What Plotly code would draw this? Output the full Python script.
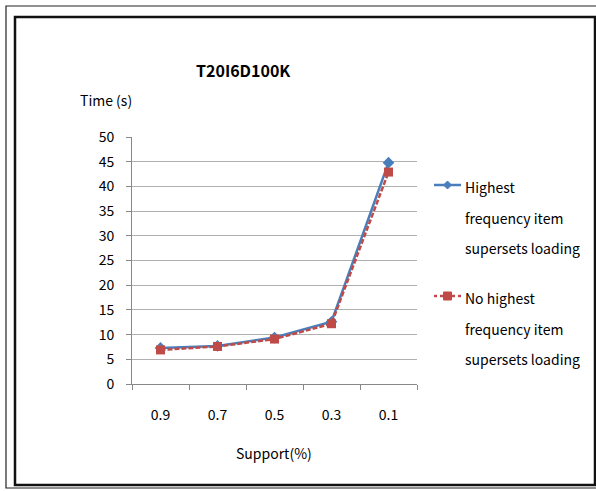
import plotly.graph_objects as go

# Support thresholds (%) and run times (s) on T20I6D100K
support = ["0.9", "0.7", "0.5", "0.3", "0.1"]
time_with_loading = [7.3, 7.7, 9.4, 12.6, 44.8]
time_without_loading = [6.9, 7.6, 9.1, 12.2, 42.9]
y_ticks = [0, 5, 10, 15, 20, 25, 30, 35, 40, 45, 50]

series_names = [
    "Highest<br>frequency item<br>supersets loading",
    "No highest<br>frequency item<br>supersets loading",
]

BLUE = "#4a7ebb"
RED = "#be4b48"
FONT = "Noto Sans CJK KR"
FS = 14

W, H = 596, 491
L, R, T, B = 132, 417, 137, 384  # plot area in pixels


def px(x):
    return (x - L) / (R - L)


def py(y):
    return (B - y) / (B - T)


fig = go.Figure()
fig.add_trace(go.Scatter(
    x=support, y=time_with_loading, mode="lines+markers",
    line=dict(color=BLUE, width=2.5),
    marker=dict(symbol="diamond", size=9, color=BLUE),
    showlegend=False,
))
fig.add_trace(go.Scatter(
    x=support, y=time_without_loading, mode="lines+markers",
    line=dict(color=RED, width=2.5, dash="5px,2px"),
    marker=dict(symbol="square", size=9, color=RED),
    showlegend=False,
))

shapes = []
# double frame around the chart
shapes.append(dict(type="rect", xref="paper", yref="paper",
                   x0=px(6), x1=px(600), y0=py(488), y1=py(6),
                   line=dict(color="#222", width=1.2)))
shapes.append(dict(type="rect", xref="paper", yref="paper",
                   x0=px(15), x1=px(595), y0=py(485), y1=py(17),
                   line=dict(color="#111", width=2.5)))


def label(text, x, y, size=FS, xanchor="center"):
    return dict(text=text, x=px(x), y=py(y), xref="paper", yref="paper",
                xanchor=xanchor, yanchor="middle", showarrow=False,
                font=dict(family=FONT, size=size, color="#000"))


annotations = [
    label("<b>T20I6D100K</b>", 243, 70, size=16),
    label("Time (s)", 106, 100),
    label("Support(%)", 274, 453),
]

# legend drawn beside the plot area
legend_y = [185, 296]
colors = [BLUE, RED]
for i, (name, c, ly) in enumerate(zip(series_names, colors, legend_y)):
    dash = "solid" if i == 0 else "dot"
    shapes.append(dict(type="line", xref="paper", yref="paper",
                       x0=px(434), x1=px(461), y0=py(ly), y1=py(ly),
                       line=dict(color=c, width=2.5, dash=dash)))
    cx, cy = 447.5, ly
    if i == 0:
        path = f"M {px(cx)} {py(cy-4)} L {px(cx+4)} {py(cy)} L {px(cx)} {py(cy+4)} L {px(cx-4)} {py(cy)} Z"
        shapes.append(dict(type="path", xref="paper", yref="paper", path=path,
                           fillcolor=c, line=dict(color=c, width=1)))
    else:
        shapes.append(dict(type="rect", xref="paper", yref="paper",
                           x0=px(cx-4), x1=px(cx+4), y0=py(cy+4), y1=py(cy-4),
                           fillcolor=c, line=dict(color=c, width=1)))
    for j, line in enumerate(name.split("<br>")):
        annotations.append(label(line, 463, ly + 2 + 30.5 * j, xanchor="left"))

fig.update_layout(
    width=W, height=H,
    margin=dict(l=L, r=W - R, t=T, b=H - B),
    paper_bgcolor="white", plot_bgcolor="white",
    font=dict(family=FONT, size=FS, color="#000"),
    shapes=shapes, annotations=annotations,
    xaxis=dict(type="category", categoryorder="array", categoryarray=support,
               showgrid=False, showline=True, linecolor="#888", linewidth=1,
               ticks="outside", tickson="boundaries", ticklen=5, tickcolor="#888",
               ticklabelstandoff=18,
               tickfont=dict(family=FONT, size=FS), range=[-0.5, 4.5]),
    yaxis=dict(range=[0, 50], tickvals=y_ticks, showgrid=True, gridcolor="#b0b0b0",
               gridwidth=1, showline=True, linecolor="#888", linewidth=1,
               ticks="outside", ticklen=5, tickcolor="#888", zeroline=False,
               ticklabelstandoff=9,
               tickfont=dict(family=FONT, size=FS)),
)

fig.write_html("out.html")
